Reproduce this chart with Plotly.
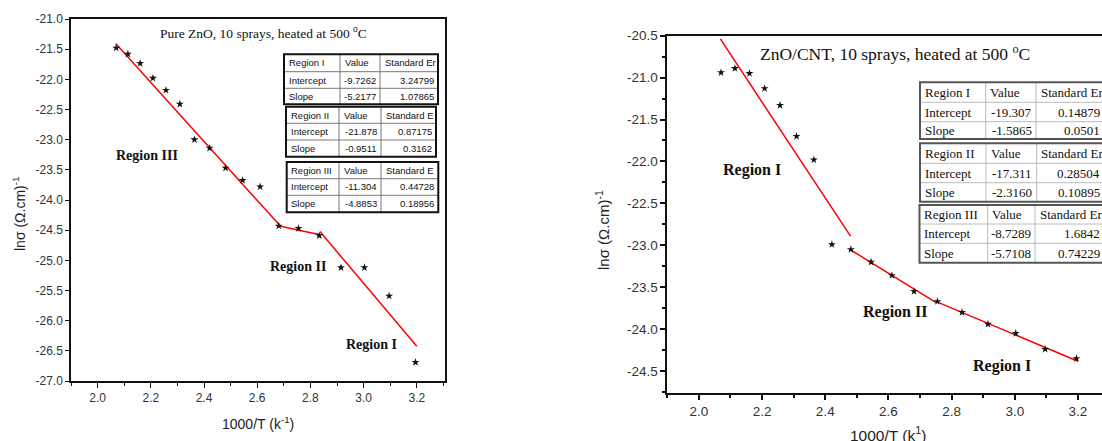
import plotly.graph_objects as go

W, H = 1102, 441

# ---------------- data ----------------
inv_T = [2.070, 2.114, 2.160, 2.208, 2.257, 2.309, 2.364, 2.421, 2.481,
         2.545, 2.611, 2.681, 2.755, 2.833, 2.915, 3.003, 3.096, 3.195]

zno_ln_sigma = [-21.48, -21.58, -21.735, -21.98, -22.18, -22.41, -23.00, -23.14, -23.47,
                -23.675, -23.78, -24.43, -24.47, -24.59, -25.12, -25.12, -25.59, -26.69]

cnt_ln_sigma = [-20.94, -20.89, -20.95, -21.13, -21.33, -21.70, -21.98, -22.99, -23.05,
                -23.20, -23.36, -23.55, -23.67, -23.80, -23.94, -24.05, -24.24, -24.35]

region_names = ["Region I", "Region II", "Region III"]

zno_intercept = ["-9.7262", "-21.878", "-11.304"]
zno_intercept_err = ["3.24799", "0.87175", "0.44728"]
zno_slope = ["-5.2177", "-0.9511", "-4.8853"]
zno_slope_err = ["1.07865", "0.3162", "0.18956"]
zno_err_header = ["Standard Er", "Standard E", "Standard E"]
zno_fit_x = [(2.836, 3.200), (2.683, 2.836), (2.068, 2.683)]

cnt_intercept = ["-19.307", "-17.311", "-8.7289"]
cnt_intercept_err = ["0.14879", "0.28504", "1.6842"]
cnt_slope = ["-1.5865", "-2.3160", "-5.7108"]
cnt_slope_err = ["0.0501", "0.10895", "0.74229"]
cnt_err_header = ["Standard Er", "Standard Er", "Standard Err"]
cnt_fit_x = [(2.750, 3.200), (2.480, 2.750), (2.068, 2.480)]

x_ticks = [2.0, 2.2, 2.4, 2.6, 2.8, 3.0, 3.2]
x_tick_text = ["2.0", "2.2", "2.4", "2.6", "2.8", "3.0", "3.2"]
zno_y_ticks = [-21.0, -21.5, -22.0, -22.5, -23.0, -23.5, -24.0, -24.5, -25.0, -25.5, -26.0, -26.5, -27.0]
zno_y_text = ["-21.0", "-21.5", "-22.0", "-22.5", "-23.0", "-23.5", "-24.0", "-24.5", "-25.0",
              "-25.5", "-26.0", "-26.5", "-27.0"]
cnt_y_ticks = [-20.5, -21.0, -21.5, -22.0, -22.5, -23.0, -23.5, -24.0, -24.5]
cnt_y_text = ["-20.5", "-21.0", "-21.5", "-22.0", "-22.5", "-23.0", "-23.5", "-24.0", "-24.5"]


def X(px):
    return px / W


def Y(py):
    return 1 - py / H


fig = go.Figure()

# ---------------- traces ----------------
for xa, ya, yvals, fits_x, icpt, slp in [
        ("x", "y", zno_ln_sigma, zno_fit_x, zno_intercept, zno_slope),
        ("x2", "y2", cnt_ln_sigma, cnt_fit_x, cnt_intercept, cnt_slope)]:
    for (a, b), c, s in zip(fits_x, icpt, slp):
        c, s = float(c), float(s)
        fig.add_trace(go.Scatter(x=[a, b], y=[c + s * a, c + s * b], mode="lines",
                                 line=dict(color="#ff0000", width=1.5),
                                 xaxis=xa, yaxis=ya, showlegend=False, hoverinfo="skip"))
    fig.add_trace(go.Scatter(x=inv_T, y=yvals, mode="markers",
                             marker=dict(symbol="star", size=6, color="#111111"),
                             xaxis=xa, yaxis=ya, showlegend=False))

tickfont_l = dict(family="Liberation Sans", size=12, color="#333333")
tickfont_r = dict(family="Liberation Sans", size=13.5, color="#333333")

fig.update_layout(
    width=W, height=H, margin=dict(l=0, r=0, t=0, b=0, pad=0, autoexpand=False),
    paper_bgcolor="white", plot_bgcolor="white",
    xaxis=dict(domain=[X(71), X(445)], range=[1.9, 3.306], anchor="y", automargin=False,
               showline=True, mirror=True, linecolor="#111111", linewidth=1.5,
               showgrid=False, zeroline=False, ticks="outside", ticklen=5, tickwidth=1.2,
               tickcolor="#111111", tickvals=x_ticks, ticktext=x_tick_text, tickfont=tickfont_l,
               minor=dict(dtick=0.1, tick0=2.0, ticks="outside", ticklen=3, tickcolor="#111111",
                          showgrid=False)),
    yaxis=dict(domain=[Y(381), Y(19)], range=[-27.0, -21.0], anchor="x", automargin=False,
               showline=True, mirror=True, linecolor="#111111", linewidth=1.5,
               showgrid=False, zeroline=False, ticks="outside", ticklen=4, tickwidth=1.2,
               tickcolor="#111111", tickvals=zno_y_ticks, ticktext=zno_y_text, tickfont=tickfont_l),
    xaxis2=dict(domain=[X(667.3), 1.0], range=[1.9, 3.276], anchor="y2", automargin=False,
                showline=True, mirror=True, linecolor="#111111", linewidth=1.8,
                showgrid=False, zeroline=False, ticks="outside", ticklen=5, tickwidth=1.5,
                tickcolor="#111111", tickvals=x_ticks, ticktext=x_tick_text, tickfont=tickfont_r,
                minor=dict(dtick=0.1, tick0=2.0, ticks="outside", ticklen=3, tickcolor="#111111",
                           showgrid=False)),
    yaxis2=dict(domain=[Y(393.3), Y(35.7)], range=[-24.766, -20.5], anchor="x2", automargin=False,
                showline=True, mirror=False, linecolor="#111111", linewidth=1.8,
                showgrid=False, zeroline=False, ticks="outside", ticklen=5, tickwidth=1.5,
                tickcolor="#111111", tickvals=cnt_y_ticks, ticktext=cnt_y_text, tickfont=tickfont_r,
                minor=dict(dtick=0.25, tick0=-20.5, ticks="outside", ticklen=3, tickcolor="#111111",
                           showgrid=False)),
)

annotations = []
shapes = []


def text(px, py, s, size, family, bold=False, color="#111111", angle=0, xanchor="center"):
    if bold:
        s = "<b>" + s + "</b>"
    annotations.append(dict(x=X(px), y=Y(py), xref="paper", yref="paper", text=s,
                            showarrow=False, xanchor=xanchor, yanchor="middle", textangle=angle,
                            font=dict(family=family, size=size, color=color)))


# titles and region labels
text(263.5, 33, "Pure ZnO, 10 sprays, heated at 500 <sup>o</sup>C", 13.5, "Liberation Serif")
text(146.5, 155, "Region III", 14, "Liberation Serif", bold=True)
text(297.5, 266, "Region II", 14, "Liberation Serif", bold=True)
text(371.5, 344, "Region I", 14, "Liberation Serif", bold=True)

text(895, 53, "ZnO/CNT, 10 sprays, heated at 500 <sup>o</sup>C", 17.5, "Liberation Serif")
text(751.5, 170, "Region I", 16, "Liberation Serif", bold=True)
text(895, 312, "Region II", 16, "Liberation Serif", bold=True)
text(1002.5, 366, "Region I", 16, "Liberation Serif", bold=True)

# axis titles
text(258, 423, "1000/T (k<sup>-1</sup>)", 14, "Liberation Sans", color="#222222")
text(19, 214, "lnσ (Ω.cm)<sup>-1</sup>", 14, "Liberation Sans", color="#222222", angle=-90)
text(888, 434, "1000/T (k<sup>1</sup>)", 15.5, "Liberation Sans", color="#222222")
text(602, 230, "lnσ (Ω.cm)<sup>-1</sup>", 15, "Liberation Sans", color="#222222", angle=-90)


def table(cols, rows, cells, size, family, outer_w, inner_color, outer_color):
    for c in cols[1:-1]:
        shapes.append(dict(type="line", xref="paper", yref="paper", x0=X(c), x1=X(c),
                           y0=Y(rows[0]), y1=Y(rows[-1]), line=dict(color=inner_color, width=1)))
    for r in rows[1:-1]:
        shapes.append(dict(type="line", xref="paper", yref="paper", x0=X(cols[0]), x1=X(cols[-1]),
                           y0=Y(r), y1=Y(r), line=dict(color=inner_color, width=1)))
    shapes.append(dict(type="rect", xref="paper", yref="paper", x0=X(cols[0]), x1=X(cols[-1]),
                       y0=Y(rows[-1]), y1=Y(rows[0]), line=dict(color=outer_color, width=outer_w)))
    for ri, row in enumerate(cells):
        yc = (rows[ri] + rows[ri + 1]) / 2
        for ci, s in enumerate(row):
            if ci == 0 or ri == 0:
                text(cols[ci] + 2.5, yc, s, size, family, xanchor="left")
            else:
                text(cols[ci + 1] - 2.5, yc, s, size, family, xanchor="right")


left_geom = [([284, 340, 380, 438], [54.3, 71.7, 88.3, 104.3]),
             ([286, 339, 381, 436], [106.7, 123.3, 140, 156.7]),
             ([286.7, 339, 381, 438.3], [162, 178.7, 195.3, 212.3])]
right_geom = [([920, 985.7, 1036, 1104], [82.3, 102.3, 121.7, 139]),
              ([920, 986, 1036.7, 1104], [143.3, 163.3, 182.7, 201.7]),
              ([919.5, 987.7, 1035, 1104], [205, 224, 243.3, 262.7])]

for i, (cols, rows) in enumerate(left_geom):
    cells = [[region_names[i], "Value", zno_err_header[i]],
             ["Intercept", zno_intercept[i], zno_intercept_err[i]],
             ["Slope", zno_slope[i], zno_slope_err[i]]]
    table(cols, rows, cells, 9.5, "Liberation Sans", 2, "#777777", "#111111")

for i, (cols, rows) in enumerate(right_geom):
    cells = [[region_names[i], "Value", cnt_err_header[i]],
             ["Intercept", cnt_intercept[i], cnt_intercept_err[i]],
             ["Slope", cnt_slope[i], cnt_slope_err[i]]]
    table(cols, rows, cells, 13, "Liberation Serif", 2, "#bbbbbb", "#555555")

fig.update_layout(annotations=annotations, shapes=shapes)

fig.write_html("out.html", config={"displayModeBar": False},
               post_script="document.body.style.margin='0';document.body.style.overflow='hidden';")
